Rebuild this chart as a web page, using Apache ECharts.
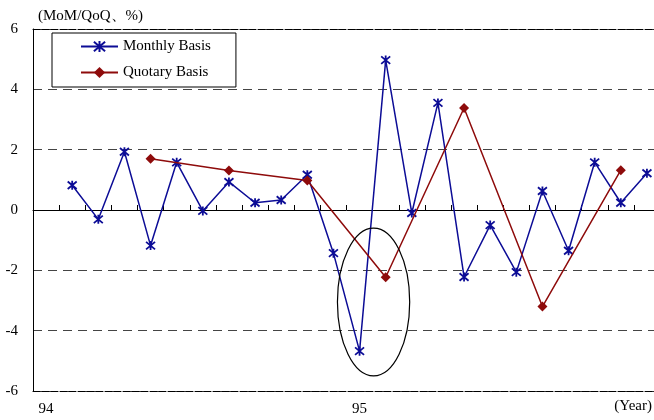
<!DOCTYPE html>
<html>
<head>
<meta charset="utf-8">
<script src="https://cdn.jsdelivr.net/npm/echarts@6/dist/echarts.min.js"></script>
<style>
  html, body { margin: 0; padding: 0; background: #fff; overflow: hidden; }
  /* the plot area runs a few pixels past the right edge of the window */
  #chart { width: 660px; height: 420px; }
</style>
</head>
<body>
<div id="chart"></div>
<script>
// months from 94/01 to 95/12 -- only the year starts carry a label
var months = ['94','','','','','','','','','','','','95','','','','','','','','','','','']
var monthly = [null, 0.82, -0.31, 1.93, -1.18, 1.58, -0.03, 0.93, 0.24, 0.33, 1.17, -1.43,
               -4.68, 4.97, -0.1, 3.55, -2.22, -0.5, -2.06, 0.63, -1.35, 1.58, 0.24, 1.22]
var quarterly = [null, null, null, null, 1.7, null, null, 1.31, null, null, 0.98, null,
                 null, -2.23, null, null, 3.38, null, null, -3.2, null, null, 1.32, null]
var yTicks = [-6, 6, 2]   // min, max, interval

var font = 'Liberation Serif'
var blue = '#0c0c96'
var red = '#8e0b0b'
var star = 'path://M0,0L10,10M10,0L0,10M5,-1L5,11'

var myChart = echarts.init(document.querySelector('#chart'))

var yearText = {
    type: 'text',
    right: 8,
    top: 399,
    style: { text: '(Year)', fontFamily: font, fontSize: 15, fill: '#000' }
}

var option = {
    animation: false,
    backgroundColor: '#fff',
    textStyle: { fontFamily: font },
    grid: { left: 33, right: 0, top: 29, bottom: 29, containLabel: false },
    legend: {
        orient: 'vertical',
        left: 52,
        top: 33,
        padding: [6, 25, 7, 28],
        itemWidth: 37,
        itemHeight: 14,
        itemGap: 11,
        borderColor: '#000',
        borderWidth: 1,
        backgroundColor: '#fff',
        textStyle: { fontFamily: font, fontSize: 15, color: '#000' },
        data: ['Monthly Basis', 'Quotary Basis']
    },
    xAxis: [
        {
            // the zero line with its month ticks
            type: 'category',
            data: months,
            boundaryGap: true,
            axisLine: { onZero: true, lineStyle: { color: '#000', width: 1 } },
            axisTick: { show: true, inside: true, length: 5, interval: 0, lineStyle: { color: '#000' } },
            axisLabel: { show: false },
            splitLine: { show: false }
        },
        {
            // bottom axis carrying the year labels
            type: 'category',
            data: months,
            position: 'bottom',
            axisLine: { onZero: false, show: true, lineStyle: { color: '#000', type: [7, 2] } },
            axisTick: { show: false },
            axisLabel: { interval: 0, margin: 11, fontFamily: font, fontSize: 15, color: '#000' }
        },
        {
            // top border
            type: 'category',
            data: months,
            position: 'top',
            axisLine: { onZero: false, show: true, lineStyle: { color: '#000', type: [7, 2] } },
            axisTick: { show: false },
            axisLabel: { show: false }
        }
    ],
    yAxis: {
        type: 'value',
        min: yTicks[0],
        max: yTicks[1],
        interval: yTicks[2],
        name: '(MoM/QoQ、%)',
        nameLocation: 'end',
        nameGap: 5,
        nameTextStyle: { fontFamily: font, fontSize: 15, color: '#000', align: 'left', padding: [0, 0, 0, 5] },
        axisLine: { show: true, lineStyle: { color: '#000', width: 1 } },
        axisTick: { show: false },
        axisLabel: { margin: 15, fontFamily: font, fontSize: 15, color: '#000' },
        splitLine: { show: true, lineStyle: { color: '#444', type: [9, 6], width: 1 } }
    },
    series: [
        {
            name: 'Monthly Basis',
            type: 'line',
            data: monthly,
            symbol: star,
            symbolSize: 9,
            showAllSymbol: true,
            lineStyle: { color: blue, width: 1.5 },
            itemStyle: { color: blue, borderColor: blue, borderWidth: 1.8 },
            z: 3
        },
        {
            name: 'Quotary Basis',
            type: 'line',
            data: quarterly,
            connectNulls: true,
            symbol: 'diamond',
            symbolSize: 10,
            lineStyle: { color: red, width: 1.5 },
            itemStyle: { color: red },
            z: 4
        }
    ],
    graphic: [yearText]
}
myChart.setOption(option)

// circle round the sharp swing at the start of 95
var ctr = myChart.convertToPixel({ xAxisIndex: 0, yAxisIndex: 0 }, [12, -3.05])
var ovalTop = myChart.convertToPixel({ yAxisIndex: 0 }, -0.6)
var ovalLeft = myChart.convertToPixel({ xAxisIndex: 0 }, 11)
myChart.setOption({
    graphic: [
        yearText,
        {
            type: 'ellipse',
            shape: { cx: ctr[0] + 14, cy: ctr[1], rx: ctr[0] - ovalLeft + 10, ry: ctr[1] - ovalTop },
            style: { fill: 'none', stroke: '#000', lineWidth: 1.2 },
            z: 10
        }
    ]
})
</script>
</body>
</html>
